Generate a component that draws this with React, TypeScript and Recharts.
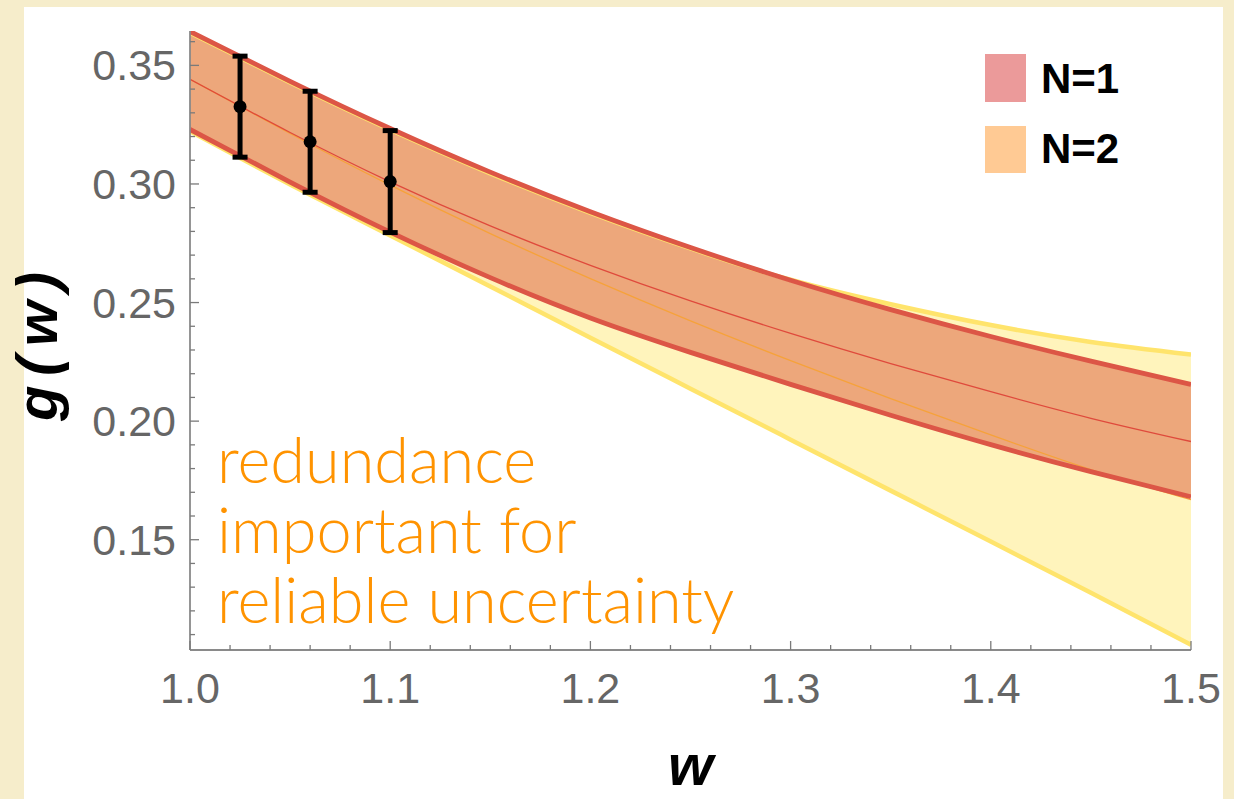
import { Area, ComposedChart, ErrorBar, Line, Scatter, XAxis, YAxis } from "recharts";

// w grid the bands are sampled on
const wGrid = [1.0, 1.05, 1.1, 1.15, 1.2, 1.25, 1.3, 1.35, 1.4, 1.45, 1.5];

// N=1 band
const n1Upper = [0.3643, 0.3433, 0.3234, 0.305, 0.2883, 0.2732, 0.2594, 0.247, 0.2357, 0.2253, 0.2155];
const n1Center = [0.3441, 0.3217, 0.3009, 0.2823, 0.2657, 0.2507, 0.237, 0.2243, 0.2124, 0.2012, 0.1914];
const n1Lower = [0.323, 0.3008, 0.2797, 0.2605, 0.2435, 0.229, 0.2155, 0.2025, 0.1901, 0.1787, 0.1681];

// N=2 band
const n2Upper = [0.3638, 0.3428, 0.3229, 0.3045, 0.2878, 0.2728, 0.2596, 0.2493, 0.2405, 0.2334, 0.2281];
const n2Center = [0.3441, 0.3213, 0.2995, 0.2791, 0.2601, 0.2423, 0.2255, 0.2095, 0.1942, 0.1796, 0.1669];
const n2Lower = [0.3222, 0.2998, 0.2783, 0.2568, 0.2352, 0.2137, 0.1922, 0.1707, 0.1492, 0.1276, 0.1057];

// lattice points with errors
const pointW = [1.025, 1.06, 1.1];
const pointG = [0.3326, 0.3178, 0.301];
const pointErr = [0.0213, 0.0213, 0.0215];

const xMajor = [1.0, 1.1, 1.2, 1.3, 1.4, 1.5];
const yMajor = [0.15, 0.2, 0.25, 0.3, 0.35];
const X_DOMAIN = [1.0, 1.5];
const Y_DOMAIN = [0.1035, 0.3645];

const steps = (from: number, to: number, step: number) => {
  const out: number[] = [];
  for (let i = 0; from + i * step <= to + 1e-9; i++) out.push(+(from + i * step).toFixed(4));
  return out;
};
const xTicks = steps(1.0, 1.5, 0.02);
const yTicks = steps(0.11, 0.36, 0.01);

const rows = wGrid.map((w, i) => ({
  w,
  n1Up: n1Upper[i],
  n1Mid: n1Center[i],
  n1Lo: n1Lower[i],
  n1Band: [n1Lower[i], n1Upper[i]],
  n2Up: n2Upper[i],
  n2Mid: n2Center[i],
  n2Lo: n2Lower[i],
  n2Band: [n2Lower[i], n2Upper[i]],
}));

const points = pointW.map((w, i) => ({ w, g: pointG[i], err: pointErr[i] }));

const FONT = "'Liberation Sans', Arial, sans-serif";
const TICK_COLOR = "#7a7a7a";
const LABEL_COLOR = "#666";
const CURVE = "natural";

const isMajor = (v: number, majors: number[]) => majors.some((m) => Math.abs(m - v) < 1e-6);

// ticks point into the frame; labels only on the bottom and left sides
function frameTick(side: "bottom" | "top" | "left" | "right", majors: number[], fmt?: (v: number) => string) {
  return (props: any) => {
    const { x, y, payload } = props;
    const major = isMajor(payload.value, majors);
    const len = major ? 9 : 5;
    let line;
    if (side === "bottom") line = <line x1={x} y1={y} x2={x} y2={y - len} />;
    else if (side === "top") line = <line x1={x} y1={y} x2={x} y2={y + len} />;
    else if (side === "left") line = <line x1={x} y1={y} x2={x + len} y2={y} />;
    else line = <line x1={x} y1={y} x2={x - len} y2={y} />;
    return (
      <g>
        <g stroke={TICK_COLOR} strokeWidth={1.3}>{line}</g>
        {fmt && major && side === "bottom" && (
          <text x={x} y={y + 38} textAnchor="middle" dominantBaseline="central" fill={LABEL_COLOR} fontSize={43} fontFamily={FONT}>
            {fmt(payload.value)}
          </text>
        )}
        {fmt && major && side === "left" && (
          <text x={x - 14} y={y} textAnchor="end" dominantBaseline="central" fill={LABEL_COLOR} fontSize={43} fontFamily={FONT}>
            {fmt(payload.value)}
          </text>
        )}
      </g>
    );
  };
}

const axisLine = { stroke: "#8a8a8a", strokeWidth: 1.8 };

export default function App() {
  return (
    <div style={{ position: "fixed", left: 0, top: 0, width: 1234, height: 799, background: "#f6edcb", overflow: "hidden" }}>
      <div style={{ position: "absolute", left: 24, top: 7, width: 1199, height: 792, background: "#fff" }} />
      <div style={{ position: "absolute", left: 0, top: 0 }}>
        <ComposedChart width={1234} height={799} data={rows} margin={{ top: 31, right: 43, bottom: 89, left: 0 }}>
          <XAxis
            xAxisId="b"
            dataKey="w"
            type="number"
            domain={X_DOMAIN}
            allowDataOverflow
            ticks={xTicks}
            interval={0}
            height={60}
            tickSize={0}
            tickMargin={0}
            tickLine={false}
            axisLine={axisLine}
            tick={frameTick("bottom", xMajor, (v) => v.toFixed(1))}
            label={{
              content: (p: any) => {
                const vb = p.viewBox;
                return (
                  <text x={vb.x + vb.width / 2} y={vb.y + 135} textAnchor="middle" fontSize={58} fontWeight="bold" fontStyle="italic" fontFamily={FONT} fill="#000">
                    w
                  </text>
                );
              },
            }}
          />
          <XAxis
            xAxisId="t"
            dataKey="w"
            orientation="top"
            type="number"
            domain={X_DOMAIN}
            allowDataOverflow
            ticks={xTicks}
            interval={0}
            height={0}
            tickSize={0}
            tickMargin={0}
            tickLine={false}
            axisLine={axisLine}
            tick={frameTick("top", xMajor)}
          />
          <YAxis
            yAxisId="l"
            type="number"
            domain={Y_DOMAIN}
            allowDataOverflow
            ticks={yTicks}
            interval={0}
            width={190}
            tickSize={0}
            tickMargin={0}
            tickLine={false}
            axisLine={axisLine}
            tick={frameTick("left", yMajor, (v) => v.toFixed(2))}
            label={{
              content: (p: any) => {
                const vb = p.viewBox;
                const cx = 57;
                const cy = vb.y + vb.height / 2 + 1;
                return (
                  <text
                    x={cx}
                    y={cy}
                    transform={`rotate(-90, ${cx}, ${cy})`}
                    textAnchor="middle"
                    fontSize={58}
                    fontWeight="bold"
                    fontStyle="italic"
                    fontFamily={FONT}
                    letterSpacing={10}
                    fill="#000"
                  >
                    g(w)
                  </text>
                );
              },
            }}
          />
          <YAxis
            yAxisId="r"
            orientation="right"
            type="number"
            domain={Y_DOMAIN}
            allowDataOverflow
            ticks={yTicks}
            interval={0}
            width={0}
            tickSize={0}
            tickMargin={0}
            tickLine={false}
            axisLine={axisLine}
            tick={frameTick("right", yMajor)}
          />

          {/* N=2 band underneath */}
          <Area xAxisId="b" yAxisId="l" dataKey="n2Band" type={CURVE} fill="#fff4bc" fillOpacity={1} stroke="none" isAnimationActive={false} />
          <Line xAxisId="b" yAxisId="l" dataKey="n2Up" type={CURVE} stroke="#ffe46c" strokeWidth={4.5} dot={false} isAnimationActive={false} />
          <Line xAxisId="b" yAxisId="l" dataKey="n2Lo" type={CURVE} stroke="#ffe46c" strokeWidth={4.5} dot={false} isAnimationActive={false} />

          {/* N=1 band on top, semi-transparent */}
          <Area xAxisId="b" yAxisId="l" dataKey="n1Band" type={CURVE} fill="#e8936a" fillOpacity={0.8} stroke="none" isAnimationActive={false} />
          <Line xAxisId="b" yAxisId="l" dataKey="n2Mid" type={CURVE} stroke="#f6a23a" strokeWidth={1.3} dot={false} isAnimationActive={false} />
          <Line xAxisId="b" yAxisId="l" dataKey="n1Up" type={CURVE} stroke="#dc5646" strokeWidth={4.8} dot={false} isAnimationActive={false} />
          <Line xAxisId="b" yAxisId="l" dataKey="n1Lo" type={CURVE} stroke="#dc5646" strokeWidth={4.8} dot={false} isAnimationActive={false} />
          <Line xAxisId="b" yAxisId="l" dataKey="n1Mid" type={CURVE} stroke="#df4a3c" strokeWidth={1.3} dot={false} isAnimationActive={false} />

          <Scatter
            xAxisId="b"
            yAxisId="l"
            data={points}
            dataKey="g"
            isAnimationActive={false}
            shape={(p: any) => <circle cx={p.cx} cy={p.cy} r={6.5} fill="#000" />}
          >
            <ErrorBar dataKey="err" direction="y" width={7.5} strokeWidth={5} stroke="#000" isAnimationActive={false} />
          </Scatter>
        </ComposedChart>
      </div>

      {/* legend and note */}
      <svg width={1234} height={799} style={{ position: "absolute", left: 0, top: 0, pointerEvents: "none" }}>
        <rect x={985} y={54} width={41} height={48} fill="#eb9a9a" />
        <text x={1041} y={93} fontSize={42} fontWeight="bold" fontFamily={FONT} fill="#000">N=1</text>
        <rect x={985} y={126} width={41} height={47} fill="#ffca94" />
        <text x={1041} y={163} fontSize={42} fontWeight="bold" fontFamily={FONT} fill="#000">N=2</text>

        <g fontFamily="Lato, sans-serif" fontWeight={300} fontSize={63} fill="#ff9300">
          <text x={217} y={483}>redundance</text>
          <text x={217} y={553}>important for</text>
          <text x={217} y={623}>reliable uncertainty</text>
        </g>
      </svg>
    </div>
  );
}
